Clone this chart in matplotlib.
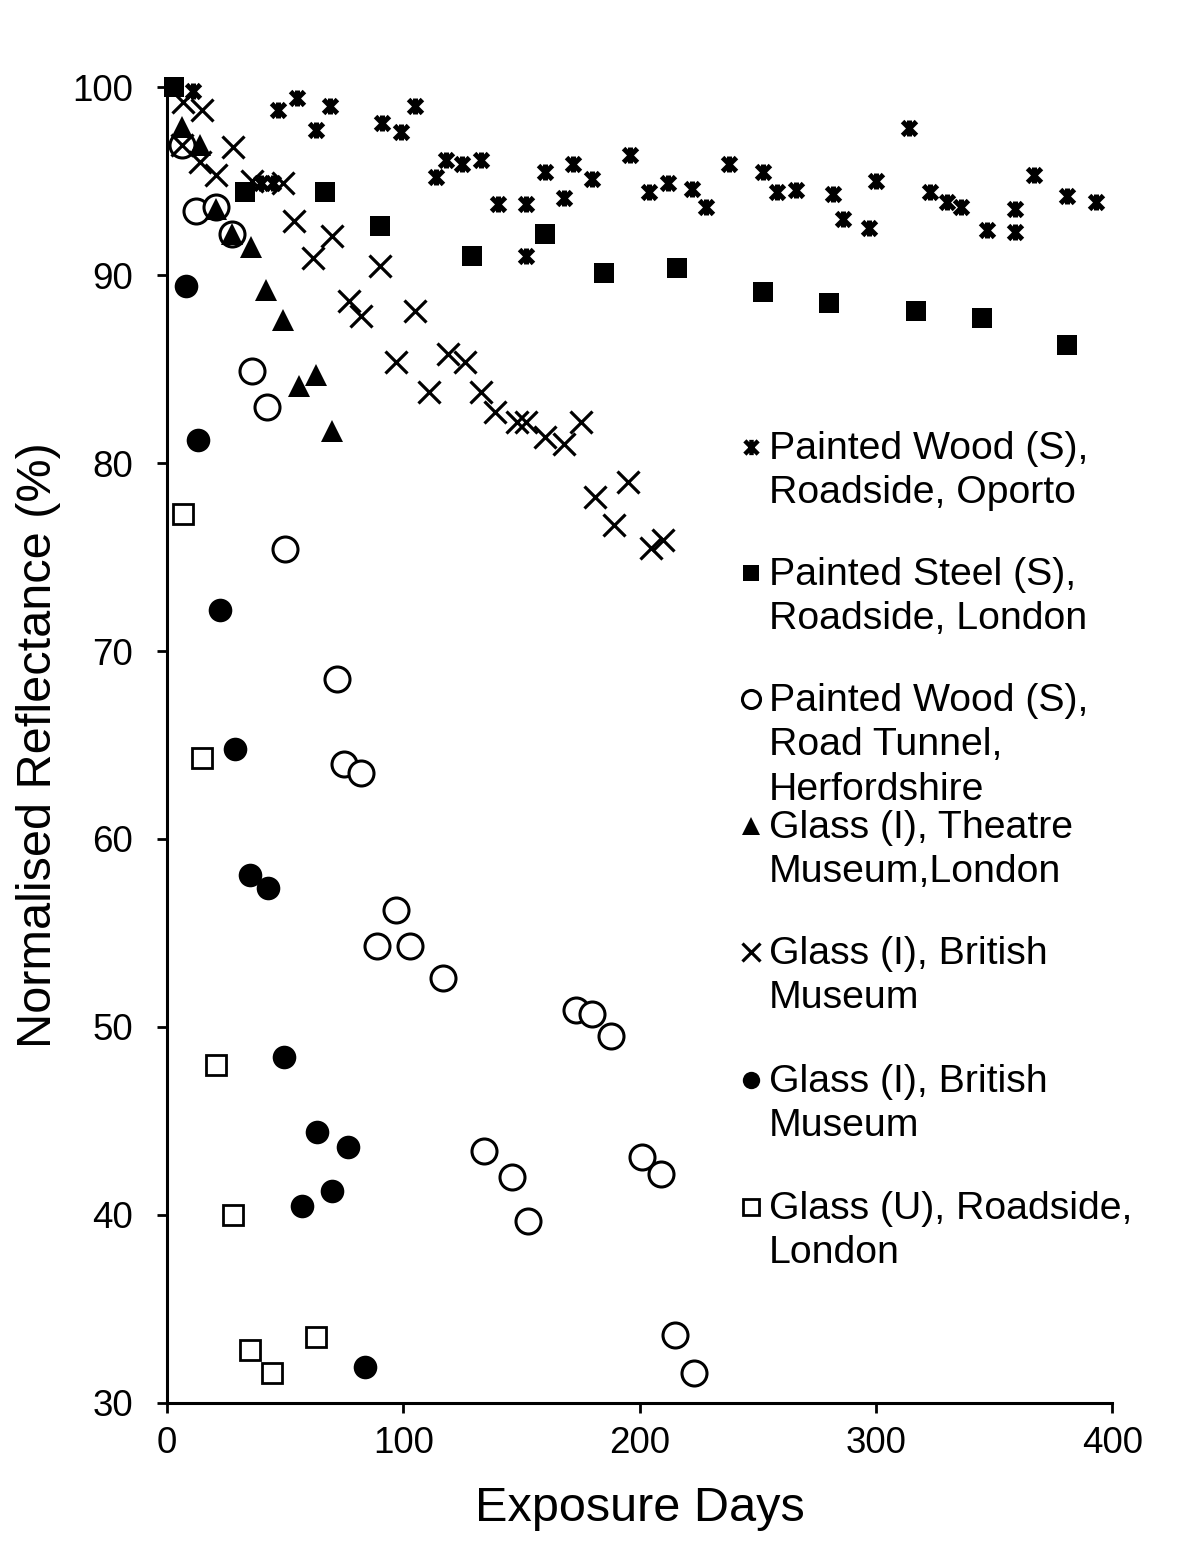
import numpy as np
import matplotlib
matplotlib.use("Agg")
import matplotlib.pyplot as plt
from matplotlib.path import Path

plt.rcParams['font.family'] = ['Liberation Sans', 'DejaVu Sans']

# Painted Wood (S), Roadside, Oporto
oporto_days = [11, 40, 45, 47, 55, 63, 69, 91, 99, 105, 114, 118, 125, 133, 140, 152, 152,
               160, 168, 172, 180, 196, 204, 212, 222, 228, 238, 252, 258, 266, 282, 286,
               297, 300, 314, 323, 330, 336, 347, 359, 359, 367, 381, 393]
oporto_refl = [99.8, 94.9, 94.9, 98.8, 99.4, 97.7, 99.0, 98.1, 97.6, 99.0, 95.2, 96.1, 95.9,
               96.1, 93.8, 93.8, 91.0, 95.5, 94.1, 95.9, 95.1, 96.4, 94.4, 94.9, 94.6, 93.6,
               95.9, 95.5, 94.4, 94.5, 94.3, 93.0, 92.5, 95.0, 97.8, 94.4, 93.9, 93.6, 92.4,
               93.5, 92.3, 95.3, 94.2, 93.9]

# Painted Steel (S), Roadside, London
steel_days = [3, 33, 67, 90, 129, 160, 185, 216, 252, 280, 317, 345, 381]
steel_refl = [100.0, 94.4, 94.4, 92.6, 91.0, 92.2, 90.1, 90.4, 89.1, 88.5, 88.1, 87.7, 86.3]

# Painted Wood (S), Road Tunnel, Herfordshire
tunnel_days = [6.5, 12.5, 21, 27.5, 36, 42.5, 50, 72, 75, 82, 89, 97, 103, 117, 134, 146,
               153, 173, 180, 188, 201, 209, 215, 223]
tunnel_refl = [96.9, 93.4, 93.6, 92.2, 84.9, 83.0, 75.4, 68.5, 64.0, 63.5, 54.3, 56.2, 54.3,
               52.6, 43.4, 42.0, 39.7, 50.9, 50.7, 49.5, 43.1, 42.2, 33.6, 31.6]

# Glass (I), Theatre Museum, London
theatre_days = [6.5, 14, 21, 27.5, 35.5, 42, 49, 56, 63, 70]
theatre_refl = [97.9, 96.9, 93.5, 92.2, 91.5, 89.2, 87.6, 84.1, 84.7, 81.7]

# Glass (I), British Museum (crosses)
bm_x_days = [6.5, 7, 15, 14, 21, 28, 36, 49, 54, 62, 70, 77, 82, 90, 97, 105, 111, 119,
             126, 133, 139, 148, 152, 160, 168, 175, 181, 189, 195, 205, 210]
bm_x_refl = [96.9, 99.2, 98.8, 96.0, 95.3, 96.8, 95.0, 94.9, 92.9, 90.9, 92.1, 88.6, 87.8,
             90.5, 85.4, 88.1, 83.8, 85.8, 85.4, 83.8, 82.7, 82.2, 82.2, 81.4, 81.0, 82.2,
             78.2, 76.7, 79.0, 75.5, 75.9]

# Glass (I), British Museum (dots)
bm_o_days = [8, 13, 22.5, 29, 35, 43, 49.5, 57, 63.5, 70, 76.7, 84]
bm_o_refl = [89.4, 81.2, 72.2, 64.8, 58.1, 57.4, 48.4, 40.5, 44.4, 41.3, 43.6, 31.9]

# Glass (U), Roadside, London
glass_u_days = [7, 15, 21, 28, 35, 44.5, 63]
glass_u_refl = [77.3, 64.3, 48.0, 40.0, 32.8, 31.6, 33.5]

labels = ["Painted Wood (S),\nRoadside, Oporto",
          "Painted Steel (S),\nRoadside, London",
          "Painted Wood (S),\nRoad Tunnel,\nHerfordshire",
          "Glass (I), Theatre\nMuseum,London",
          "Glass (I), British\nMuseum",
          "Glass (I), British\nMuseum",
          "Glass (U), Roadside,\nLondon"]

# x with a vertical bar, like the excel star marker
star = Path([(-1, -1), (1, 1), (-1, 1), (1, -1), (0, -1.15), (0, 1.15)],
            [Path.MOVETO, Path.LINETO, Path.MOVETO, Path.LINETO, Path.MOVETO, Path.LINETO])

styles = [
    dict(marker=star, ms=11.5, mfc='black', mec='black', mew=3.6),
    dict(marker='s', ms=14, mfc='black', mec='black', mew=0),
    dict(marker='o', ms=18, mfc='white', mec='black', mew=2.2),
    dict(marker='^', ms=16, mfc='black', mec='black', mew=0),
    dict(marker='x', ms=15.5, mfc='black', mec='black', mew=2.3),
    dict(marker='o', ms=17, mfc='black', mec='black', mew=0),
    dict(marker='s', ms=14, mfc='white', mec='black', mew=2.0),
]
series = [(oporto_days, oporto_refl), (steel_days, steel_refl), (tunnel_days, tunnel_refl),
          (theatre_days, theatre_refl), (bm_x_days, bm_x_refl), (bm_o_days, bm_o_refl),
          (glass_u_days, glass_u_refl)]

fig = plt.figure(figsize=(12, 15.41), dpi=100)
ax = fig.add_axes([0.139, 0.0896, 0.788, 0.8539])

for (d, r), st in zip(series, styles):
    ax.plot(d, r, linestyle='none', clip_on=False, **st)

ax.set_xlim(0, 400)
ax.set_ylim(30, 100)
ax.set_xticks([0, 100, 200, 300, 400])
ax.set_yticks([30, 40, 50, 60, 70, 80, 90, 100])
for s in ['top', 'right']:
    ax.spines[s].set_visible(False)
for s in ['left', 'bottom']:
    ax.spines[s].set_linewidth(2.2)
ax.tick_params(direction='out', length=7.5, width=2.0, labelsize=26.5)
ax.tick_params(axis='x', pad=9)
ax.tick_params(axis='y', pad=17)
ax.set_xlabel("Exposure Days", fontsize=35, labelpad=18)
ax.set_ylabel("Normalised Reflectance (%)", fontsize=35, labelpad=8)

# legend drawn by hand (excel style, fixed row pitch)
row_y = [447, 573, 699, 826, 952, 1080, 1207]
leg_ms = [11, 12, 13, 13.5, 13, 12.5, 12]
for lab, st, y, ms in zip(labels, styles, row_y, leg_ms):
    st2 = dict(st)
    st2['ms'] = ms
    if st2['marker'] is star:
        st2['mew'] = 3.2
    fig.lines.append(plt.Line2D([751 / 1200], [1 - y / 1541], transform=fig.transFigure,
                                linestyle='none', **st2))
    fig.text(769 / 1200, 1 - (y - 16) / 1541, lab, fontsize=28.3, va='top', ha='left',
             linespacing=1.3)

plt.savefig("out.png", dpi=100)
